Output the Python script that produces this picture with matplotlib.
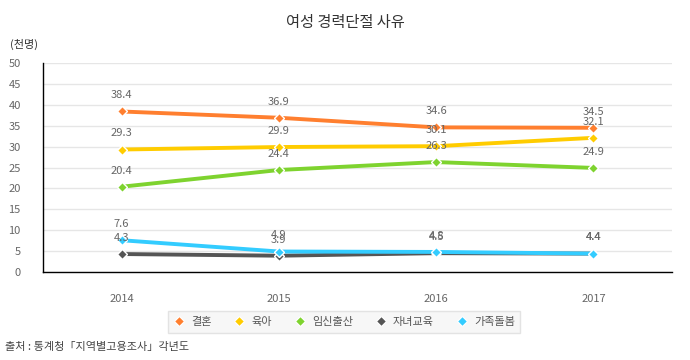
import matplotlib
matplotlib.use("Agg")
import matplotlib.pyplot as plt
from matplotlib.lines import Line2D

plt.rcParams['font.family'] = ['Noto Sans CJK KR', 'DejaVu Sans']

years = ['2014', '2015', '2016', '2017']
series_names = ['결혼', '육아', '임신출산', '자녀교육', '가족돌봄']
marriage = [38.4, 36.9, 34.6, 34.5]
childcare = [29.3, 29.9, 30.1, 32.1]
pregnancy = [20.4, 24.4, 26.3, 24.9]
education = [4.3, 3.9, 4.5, 4.4]
family_care = [7.6, 4.9, 4.8, 4.4]
colors = ['#FF7F2F', '#FFCC00', '#7ED32F', '#555555', '#33CCFF']
yticks = [0, 5, 10, 15, 20, 25, 30, 35, 40, 45, 50]

data = [marriage, childcare, pregnancy, education, family_care]

W, H = 690, 360
fig = plt.figure(figsize=(W / 100, H / 100), dpi=100)
ax = fig.add_axes([43 / W, 1 - 272 / H, (672 - 43) / W, (272 - 63) / H])

x = list(range(len(years)))
for vals, c in zip(data, colors):
    ax.plot(x, vals, color=c, lw=2.8, marker='D', ms=5.5, mfc=c, mec='white',
            mew=1.0, zorder=3, solid_capstyle='butt')
    for xi, v in zip(x, vals):
        ax.annotate(f'{v:.1f}', (xi, v), xytext=(0, 8), textcoords='offset points',
                    ha='center', va='bottom', fontsize=8, color='#666666', zorder=5)

ax.set_xlim(-0.5, 3.5)
ax.set_ylim(0, 50)
ax.set_yticks(yticks)
ax.set_xticks(x)
ax.set_xticklabels(years)
ax.tick_params(axis='both', length=0, labelsize=8, colors='#666666')
ax.tick_params(axis='x', pad=16)
ax.tick_params(axis='y', pad=16)
ax.grid(axis='y', color='#e6e6e6', lw=1)
ax.set_axisbelow(True)
for s in ['top', 'right']:
    ax.spines[s].set_visible(False)
ax.spines['left'].set_color('black')
ax.spines['bottom'].set_color('black')
ax.spines['left'].set_linewidth(1)
ax.spines['bottom'].set_linewidth(1)

fig.text(345 / W, 1 - 23 / H, '여성 경력단절 사유', ha='center', va='center',
         fontsize=11, color='#333333')
fig.text(10 / W, 1 - 44 / H, '(천명)', ha='left', va='center', fontsize=8, color='#333333')
fig.text(5 / W, 1 - 347 / H, '출처 : 통계청「지역별고용조사」각년도', ha='left', va='center',
         fontsize=8, color='#444444')

handles = [Line2D([], [], ls='none', marker='D', ms=5, mfc=c, mec='white', mew=0.8)
           for c in colors]
leg = fig.legend(handles, series_names, loc='center', bbox_to_anchor=(344 / W, 1 - 322 / H),
                 ncol=5, frameon=True, fontsize=8, handletextpad=0.6, columnspacing=2.0,
                 handlelength=1.0, borderpad=0.5, fancybox=False, labelcolor='#555555')
leg.get_frame().set_facecolor('#f6f6f6')
leg.get_frame().set_edgecolor('#dddddd')
leg.get_frame().set_linewidth(1)

fig.savefig('out.png', dpi=100)
